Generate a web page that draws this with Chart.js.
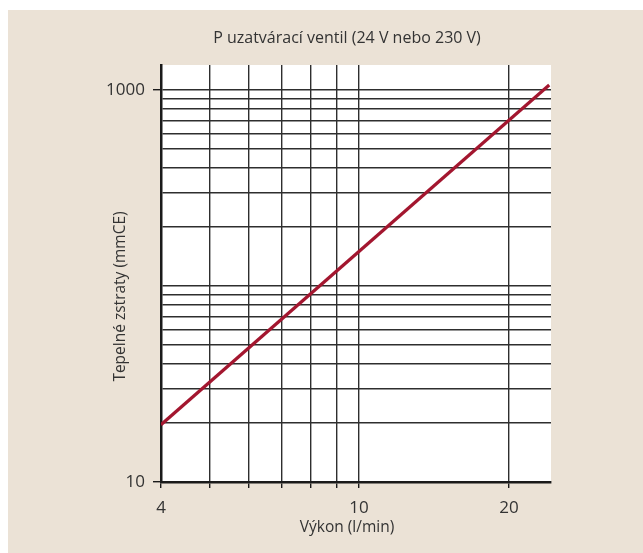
<!DOCTYPE html>
<html>
<head>
<meta charset="utf-8">
<script src="https://cdn.jsdelivr.net/npm/chart.js@4.4.1/dist/chart.umd.min.js"></script>
<style>
  html, body { margin: 0; padding: 0; background: #ffffff; }
  #panel { position: absolute; left: 8px; top: 10px; right: 0; bottom: 0; background: #ebe2d6; }
  #wrap { position: absolute; left: 0; top: 0; width: 643px; height: 553px; }
</style>
</head>
<body>
<div id="panel"></div>
<div id="wrap"><canvas id="c" width="643" height="553"></canvas></div>
<script>
// Heat loss of the P shut-off valve versus flow (log-log)
const chartTitle = 'P uzatvárací ventil (24 V nebo 230 V)';
const xTitle = 'Výkon (l/min)';
const yTitle = 'Tepelné zstraty (mmCE)';

// flow rate (l/min) and corresponding loss (mmCE)
const flowValues = [4, 24.1];
const lossValues = [19.6, 1060];

// grid positions and which of them carry a label
const flowTicks = [4, 5, 6, 7, 8, 9, 10, 20];
const flowLabels = [4, 10, 20];
const lossTicks = [10, 20, 30, 40, 50, 60, 70, 80, 90, 100, 200, 300, 400, 500, 600, 700, 800, 900, 1000];
const lossLabels = [10, 1000];

const FONT = "'Open Sans', 'Liberation Sans', sans-serif";
const TEXT = '#333333';
const GRID = '#2e2e2e';
const AXIS = '#1a1a1a';

const points = flowValues.map((x, i) => ({ x: x, y: lossValues[i] }));

// white plotting surface behind the grid
const plotBackground = {
  id: 'plotBackground',
  beforeDraw(chart) {
    const a = chart.chartArea, ctx = chart.ctx;
    ctx.save();
    ctx.fillStyle = '#ffffff';
    ctx.fillRect(a.left, a.top, a.right - a.left, a.bottom - a.top);
    ctx.restore();
  }
};

// chart heading and axis captions
const captions = {
  id: 'captions',
  afterDraw(chart) {
    const ctx = chart.ctx, a = chart.chartArea;
    const cx = (a.left + a.right) / 2 - 9;
    ctx.save();
    ctx.fillStyle = TEXT;
    ctx.textAlign = 'center';
    ctx.textBaseline = 'middle';
    ctx.font = '16px ' + FONT;
    ctx.fillText(chartTitle, cx, a.top - 27);
    ctx.font = '15.5px ' + FONT;
    ctx.fillText(xTitle, cx, a.bottom + 46);
    ctx.translate(a.left - 40, (a.top + a.bottom) / 2 + 23);
    ctx.rotate(-Math.PI / 2);
    ctx.fillText(yTitle, 0, 0);
    ctx.restore();
  }
};

new Chart(document.getElementById('c'), {
  type: 'line',
  data: {
    datasets: [{
      data: points,
      borderColor: '#a3162f',
      borderWidth: 3.2,
      pointRadius: 0,
      fill: false,
      tension: 0
    }]
  },
  options: {
    responsive: false,
    animation: false,
    events: [],
    layout: { padding: { left: 0, top: 65, right: 92, bottom: 0 } },
    plugins: { legend: { display: false }, title: { display: false }, tooltip: { enabled: false } },
    scales: {
      x: {
        type: 'logarithmic',
        min: 4,
        max: 24.3,
        afterFit(scale) { scale.height = 71; },
        afterBuildTicks(scale) { scale.ticks = flowTicks.map(v => ({ value: v })); },
        grid: { color: GRID, lineWidth: 1.4, tickLength: 6, tickColor: AXIS, tickWidth: 1.4 },
        border: { display: true, color: AXIS, width: 2.5 },
        ticks: {
          autoSkip: false,
          maxRotation: 0,
          padding: 10,
          color: TEXT,
          font: { family: FONT, size: 17 },
          callback: v => flowLabels.includes(v) ? String(v) : ''
        }
      },
      y: {
        type: 'logarithmic',
        min: 10,
        max: 1342,
        afterFit(scale) { scale.width = 161; },
        afterBuildTicks(scale) { scale.ticks = lossTicks.map(v => ({ value: v })); },
        grid: {
          color: GRID,
          lineWidth: 1.4,
          tickLength: 8,
          tickWidth: 1.4,
          tickColor: ctx => (ctx.tick && lossLabels.includes(ctx.tick.value)) ? AXIS : 'rgba(0,0,0,0)'
        },
        border: { display: true, color: AXIS, width: 2.5 },
        ticks: {
          autoSkip: false,
          padding: 8,
          color: TEXT,
          font: { family: FONT, size: 17 },
          callback: v => lossLabels.includes(v) ? String(v) : ''
        }
      }
    }
  },
  plugins: [plotBackground, captions]
});
</script>
</body>
</html>
